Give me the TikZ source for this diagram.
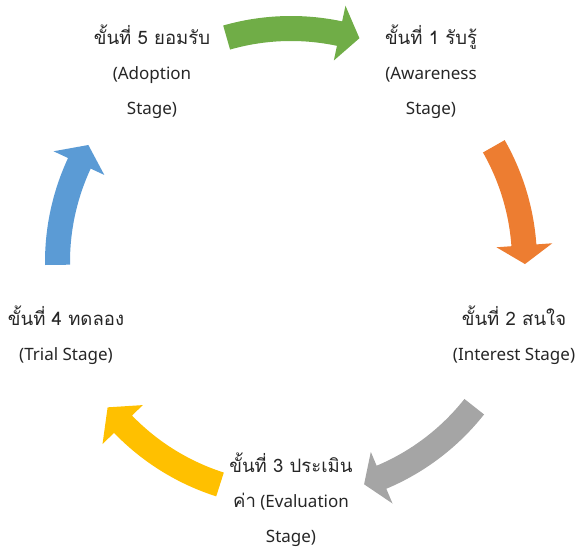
\documentclass[tikz,border=0pt]{standalone}
\usepackage{fontspec}
\setmainfont{Noto Sans}
\newfontfamily\thai[Script=Thai,Scale=1.09]{Loma}
\definecolor{cgreen}{HTML}{70AD47}
\definecolor{corange}{HTML}{ED7D31}
\definecolor{cgray}{HTML}{A5A5A5}
\definecolor{cyellow}{HTML}{FFC000}
\definecolor{cblue}{HTML}{5B9BD5}
\definecolor{ctext}{HTML}{262626}
\newcommand\cyclearrow[4]{%
  \fill[#1] (#2:221pt) arc[start angle=#2,end angle=#3,radius=221pt]
    -- (#3:206pt) -- (#4:234pt) -- (#3:262pt) -- (#3:246pt)
    arc[start angle=#3,end angle=#2,radius=246pt] -- cycle;}
\tikzset{stagetext/.style={align=center,text=ctext,inner sep=0pt,
  font=\fontsize{17}{35}\selectfont}}
\begin{document}
\begin{tikzpicture}
\useasboundingbox (0,0) rectangle (583pt,547pt);
\begin{scope}[shift={(291pt,285pt)}]
  \cyclearrow{cgreen}{106}{78}{73}
  \cyclearrow{corange}{29.7}{4.1}{-0.5}
  \cyclearrow{cgray}{-38.3}{-67.2}{-71.8}
  \cyclearrow{cyellow}{-107.7}{-136}{-141.6}
  \cyclearrow{cblue}{180.7}{155}{150}
\end{scope}
\node[stagetext] (s5) at (152pt,475pt) {{\thai ขั้นที่ 5 ยอมรับ}\\(Adoption\\Stage)};
\node[stagetext] (s1) at (431pt,475pt) {{\thai ขั้นที่ 1 รับรู้}\\(Awareness\\Stage)};
\node[stagetext] (s2) at (514pt,212pt) {{\thai ขั้นที่ 2 สนใจ}\\(Interest Stage)};
\node[stagetext] (s4) at (66pt,212pt) {{\thai ขั้นที่ 4 ทดลอง}\\(Trial Stage)};
\node[stagetext] (s3) at (291pt,47pt) {{\thai ขั้นที่ 3 ประเมิน}\\{\thai ค่า} (Evaluation\\Stage)};
\end{tikzpicture}
\end{document}
